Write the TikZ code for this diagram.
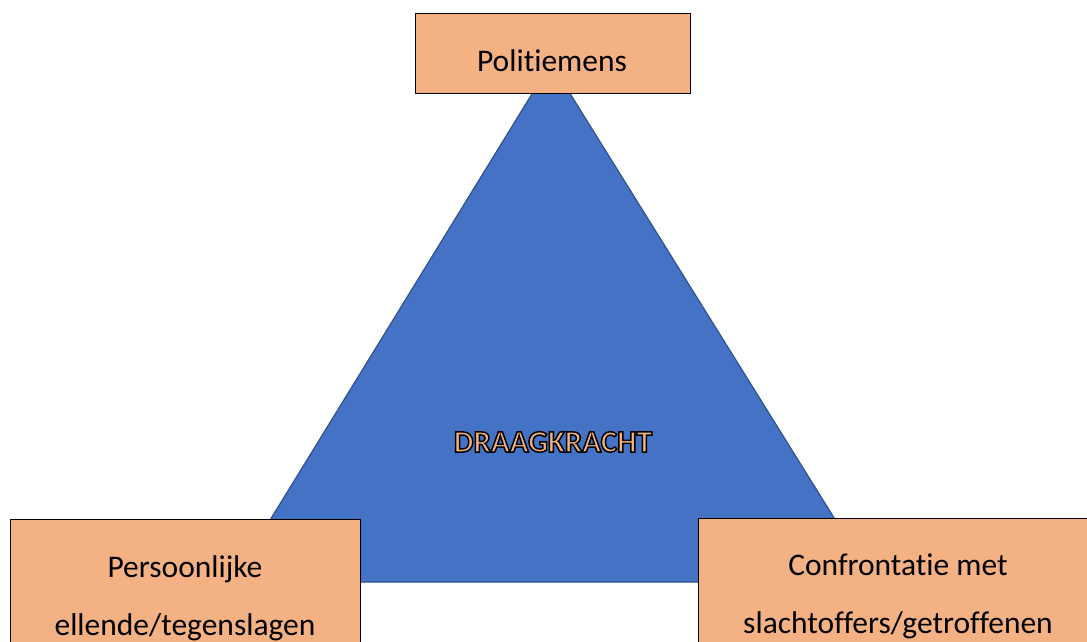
\documentclass[tikz,border=0pt]{standalone}
\usepackage{fontspec}
\setmainfont{Carlito}[Ligatures={NoCommon}]
\definecolor{trifill}{HTML}{4472C4}
\definecolor{triedge}{HTML}{2F528F}
\definecolor{boxfill}{HTML}{F4B183}
\newcommand{\outlinedtext}[1]{{\color{boxfill}\special{pdf:literal direct 0 0 0 RG 2 Tr 1.5 w}#1\special{pdf:literal direct 0 Tr}}}
\begin{document}
\begin{tikzpicture}[x=1pt,y=-1pt,
  tristyle/.style={fill=trifill,draw=triedge,line width=1.2pt,line join=miter},
  boxstyle/.style={rectangle,fill=boxfill,draw=black,line width=1pt,inner sep=0pt},
  labeltext/.style={font=\fontsize{31.5}{38}\selectfont,text=black,inner sep=0pt,anchor=base},
  dktext/.style={font=\fontsize{31}{36}\selectfont\bfseries,inner sep=0pt,anchor=base}]
\useasboundingbox (0,0) rectangle (1087,642);
\clip (0,0) rectangle (1087,642);
\fill[white] (0,0) rectangle (1087,642);
% triangle
\coordinate (apex) at (551,63);
\coordinate (bl) at (232,582);
\coordinate (br) at (874,582);
\draw[tristyle] (apex) -- (br) -- (bl) -- cycle;
% outlined label
\node[dktext] (dk) at (553,452) {\outlinedtext{DRAAGKRACHT}};
% boxes
\node[boxstyle,minimum width=275,minimum height=80,anchor=north west] (top) at (415,13) {};
\node[labeltext] (toptext) at (552,72) {Politiemens};
\node[boxstyle,minimum width=350,minimum height=200,anchor=north west] (left) at (10,519) {};
\node[labeltext] (left1) at (185,577) {Persoonlijke};
\node[labeltext] (left2) at (185,635) {ellende/tegenslagen};
\node[boxstyle,minimum width=400,minimum height=200,anchor=north west] (right) at (698,518) {};
\node[labeltext] (right1) at (898,575) {Confrontatie met};
\node[labeltext] (right2) at (898,633) {slachtoffers/getroffenen};
\end{tikzpicture}
\end{document}
